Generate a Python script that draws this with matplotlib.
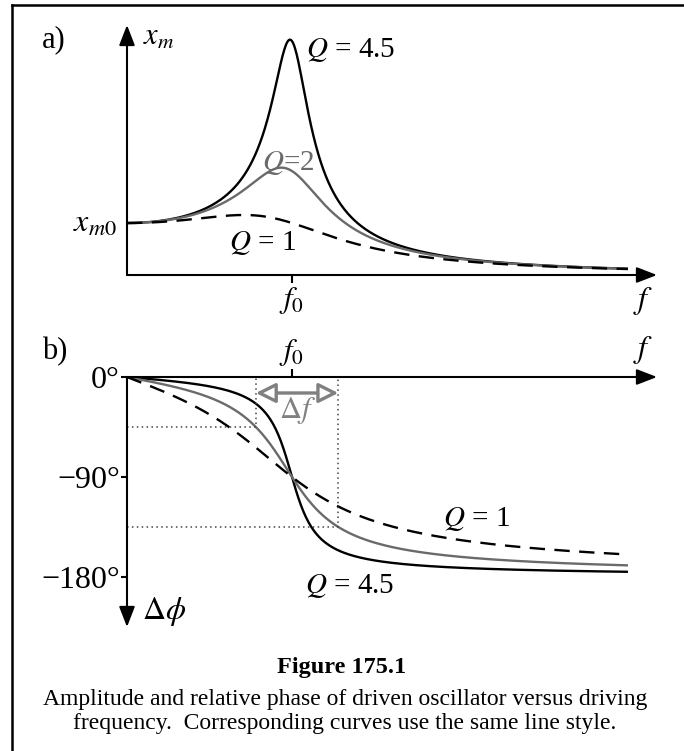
import numpy as np
import matplotlib
matplotlib.use("Agg")
import matplotlib.pyplot as plt
from matplotlib.lines import Line2D

plt.rcParams['font.family'] = ['Liberation Serif', 'DejaVu Serif']
plt.rcParams['mathtext.fontset'] = 'stix'

# quality factors of the curves and how each one is drawn
Q_values = [4.5, 2, 1]
Q_colors = ['black', '#6a6a6a', 'black']
Q_styles = ['-', '-', '--']
Q_width = 2            # curve whose half-power width (delta f) is marked
f_end = 3.036          # f/f0 where the curves stop
f_axis_end = 3.212     # f/f0 at the arrow tip
amp_top = 4.81         # x_m/x_m0 at the arrow tip
phase_bottom = -225    # degrees at the arrow tip
phase_ticks = [0, -90, -180]
phase_ticklabels = ['0°', '−90°', '−180°']

W, H = 684, 751
fig = plt.figure(figsize=(W / 100, H / 100), dpi=100)


def px_box(x0, y0, x1, y1):
    return [x0 / W, 1 - y1 / H, (x1 - x0) / W, (y1 - y0) / H]


def fx(x):
    return x / W


def fy(y):
    return 1 - y / H


ax_a = fig.add_axes(px_box(127, 25, 657, 275))
ax_b = fig.add_axes(px_box(127, 377, 657, 627))

# driven oscillator response, f in units of f0
r = np.linspace(0, f_end, 600)
for Q, c, ls in zip(Q_values, Q_colors, Q_styles):
    amp = 1 / np.sqrt((1 - r**2)**2 + (r / Q)**2)
    phase = -np.degrees(np.arctan2(r / Q, 1 - r**2))
    kw = dict(color=c, lw=1.7, solid_capstyle='butt')
    if ls == '--':
        kw['dashes'] = (6.5, 4)
    ax_a.plot(r, amp, **kw)
    ax_b.plot(r, phase, **kw)

ax_a.set_xlim(0, f_axis_end)
ax_a.set_ylim(0, amp_top)
ax_b.set_xlim(0, f_axis_end)
ax_b.set_ylim(phase_bottom, 0)

head = dict(arrowstyle='-|>,head_length=0.62,head_width=0.24', lw=1.5,
            color='black', shrinkA=0, shrinkB=0, mutation_scale=20)
for ax in (ax_a, ax_b):
    ax.patch.set_visible(False)
    for s in ax.spines.values():
        s.set_visible(False)
ax_a.annotate('', xy=(1, 0), xytext=(0, 0), xycoords='axes fraction', arrowprops=head)
ax_a.annotate('', xy=(0, 1), xytext=(0, 0), xycoords='axes fraction', arrowprops=head)
ax_b.annotate('', xy=(1, 1), xytext=(0, 1), xycoords='axes fraction', arrowprops=head)
ax_b.annotate('', xy=(0, 0), xytext=(0, 1), xycoords='axes fraction', arrowprops=head)

# ticks
ax_a.set_yticks([])
ax_a.set_xticks([1])
ax_a.set_xticklabels([''])
ax_a.tick_params(axis='x', direction='out', length=5.5, width=1.5)
ax_b.xaxis.tick_top()
ax_b.set_xticks([1])
ax_b.set_xticklabels([''])
ax_b.tick_params(axis='x', direction='out', length=5.5, width=1.5)
ax_b.set_yticks(phase_ticks)
ax_b.set_yticklabels(phase_ticklabels)
ax_b.tick_params(axis='y', direction='out', length=4, width=1.5, pad=1, labelsize=23)

# half-power points of the Q=2 curve
r_lo = (-1 / Q_width + np.sqrt(1 / Q_width**2 + 4)) / 2
r_hi = (1 / Q_width + np.sqrt(1 / Q_width**2 + 4)) / 2
dot = dict(ls=(0, (1, 2.2)), color='#444444', lw=1.1)
ax_b.plot([0, r_lo, r_lo], [-45, -45, 0], **dot)
ax_b.plot([0, r_hi, r_hi], [-135, -135, 0], **dot)
ax_b.annotate('', xy=(r_lo, -14.4), xytext=(r_hi, -14.4),
              arrowprops=dict(arrowstyle='<|-|>,head_length=0.6,head_width=0.3',
                              fc='white', ec='#808080', lw=2.4, shrinkA=0, shrinkB=0,
                              mutation_scale=20))
ax_b.text((r_lo + r_hi) / 2, -30, r'$\Delta f$', color='#808080', fontsize=22,
          ha='center', va='center')

# labels, panel a
fs = 21
ax_a.text(0.097, 4.58, r'$x_m$', fontsize=fs + 1, ha='left', va='center')
ax_a.text(-0.06, 0.97, r'$x_{m\mathit{0}}$', fontsize=fs + 2, ha='right', va='center')
ax_a.text(1.085, 4.33, r'$Q$ = 4.5', fontsize=fs, ha='left', va='center')
ax_a.text(0.976, 2.15, r'$Q$=2', fontsize=fs, ha='center', va='center', color='#6a6a6a')
ax_a.text(0.82, 0.62, r'$Q$ = 1', fontsize=fs, ha='center', va='center')
ax_a.text(1, -0.5, r'$f_0$', fontsize=fs + 1, ha='center', va='center')
ax_a.text(3.13, -0.5, r'$f$', fontsize=fs + 2, ha='center', va='center')

# labels, panel b
ax_b.text(1, 22, r'$f_0$', fontsize=fs + 1, ha='center', va='center')
ax_b.text(3.13, 24, r'$f$', fontsize=fs + 2, ha='center', va='center')
ax_b.text(0.09, -211, r'$\Delta\phi$', fontsize=fs + 2, ha='left', va='center')
ax_b.text(2.12, -128, r'$Q$ = 1', fontsize=fs, ha='center', va='center')
ax_b.text(1.079, -188, r'$Q$ = 4.5', fontsize=fs, ha='left', va='center')

fig.text(fx(42), fy(40), 'a)', fontsize=fs + 1, ha='left', va='center')
fig.text(fx(42), fy(352), 'b)', fontsize=fs + 1, ha='left', va='center')

# caption
fig.text(fx(342), fy(668), 'Figure 175.1', fontsize=17.5, fontweight='bold',
         ha='center', va='center')
fig.text(fx(345), fy(700), 'Amplitude and relative phase of driven oscillator versus driving',
         fontsize=17, ha='center', va='center')
fig.text(fx(345), fy(723), 'frequency.  Corresponding curves use the same line style.',
         fontsize=17, ha='center', va='center')

# frame
fig.add_artist(Line2D([fx(12), fx(12)], [0, fy(5)], color='black', lw=1.8))
fig.add_artist(Line2D([fx(12), 1], [fy(5), fy(5)], color='black', lw=1.8))

fig.savefig('out.png', dpi=100)
